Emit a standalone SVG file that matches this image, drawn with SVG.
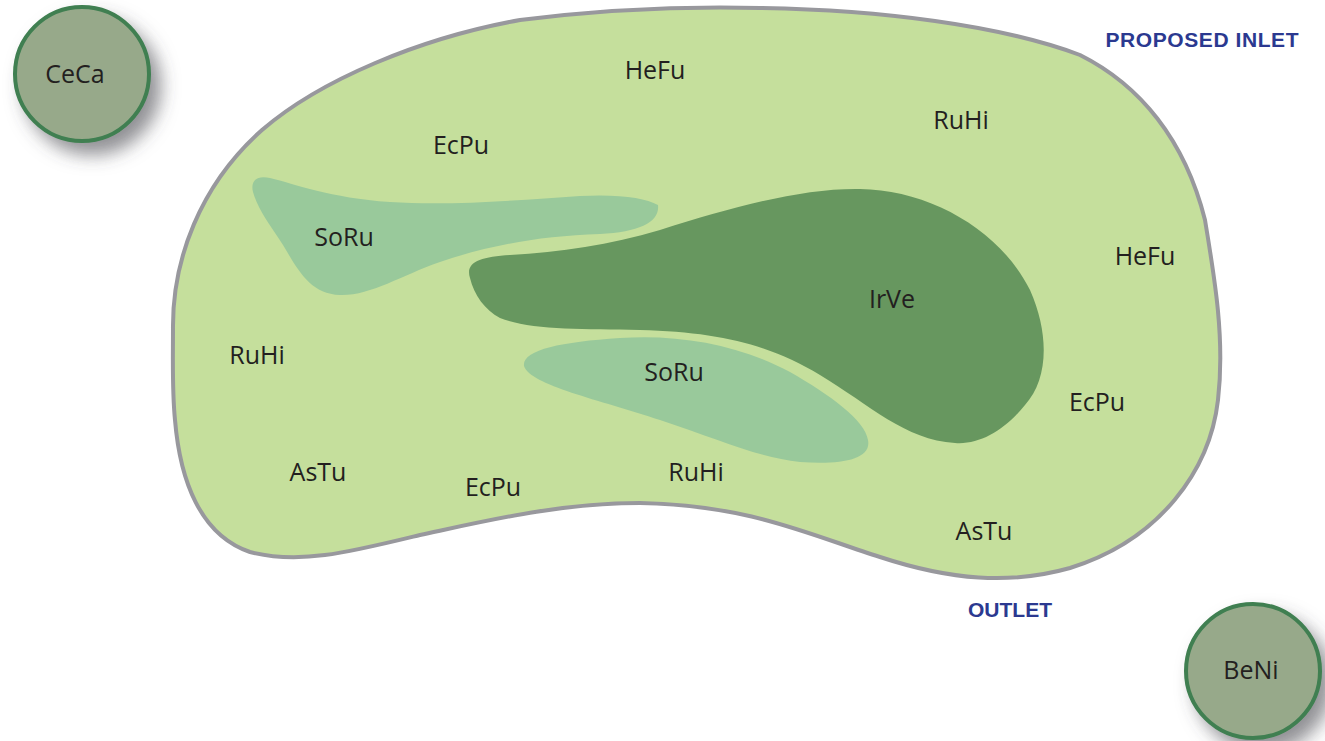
<svg xmlns="http://www.w3.org/2000/svg" width="1325" height="741" viewBox="0 0 1325 741">
<defs>
<filter id="shadow" x="-40%" y="-40%" width="200%" height="200%">
<feDropShadow dx="10" dy="12" stdDeviation="9" flood-color="#4a4a50" flood-opacity="0.6"/>
</filter>
</defs>
<style>
.lbl{font-family:"Open Sans","Noto Sans",sans-serif;font-size:25px;fill:#231f20;text-anchor:middle}
.note{font-family:"Liberation Sans",Arial,sans-serif;font-weight:700;font-size:21px;fill:#2b3990;text-anchor:middle}
.tree{fill:#97a98a;stroke:#3f7f51;stroke-width:4}
.soru{fill:#99c99b}
</style>
<rect width="1325" height="741" fill="#ffffff"/>
<g id="bed">
<path d="M 173,330 C 172,260 200,185 262,130 C 320,80 420,38 520,20 C 600,10 680,6 760,8 C 880,10 1000,25 1080,55 C 1140,85 1185,140 1205,220 C 1215,280 1225,340 1218,400 C 1210,470 1160,540 1070,568 C 1010,585 950,580 880,557 C 810,535 750,505 640,503 C 560,503 490,520 420,535 C 350,552 300,565 250,552 C 200,535 180,480 175,420 C 172,390 173,360 173,330 Z" fill="#c5df9c" stroke="#98989d" stroke-width="4"/>
</g>
<g id="soru-upper">
<path class="soru" d="M 253,192 C 250,180 258,175 270,178 C 295,184 330,198 390,202 C 450,206 520,200 580,196 C 620,194 645,198 658,205 C 660,222 640,232 600,234 C 540,236 490,245 440,262 C 400,276 370,296 340,295 C 310,294 298,270 283,245 C 270,225 258,210 253,192 Z"/>
<text class="lbl" x="344" y="246">SoRu</text>
</g>
<g id="irve">
<path d="M 470,278 C 465,262 480,257 510,255 C 560,252 610,245 660,230 C 730,208 800,188 860,189 C 930,190 1000,230 1030,290 C 1050,335 1048,380 1025,405 C 1005,430 980,445 955,443 C 905,440 870,405 820,375 C 770,345 720,332 640,330 C 580,329 530,330 500,318 C 485,310 474,295 470,278 Z" fill="#67975f"/>
<text class="lbl" x="892" y="308">IrVe</text>
</g>
<g id="soru-lower">
<path class="soru" d="M 524,366 C 522,350 560,342 620,338 C 680,334 740,345 790,372 C 830,395 865,420 868,440 C 872,460 840,465 800,462 C 760,458 720,440 660,420 C 600,400 530,385 524,366 Z"/>
<text class="lbl" x="674" y="381">SoRu</text>
</g>
<g id="labels">
<text class="lbl" x="655" y="79">HeFu</text>
<text class="lbl" x="461" y="154">EcPu</text>
<text class="lbl" x="961" y="129">RuHi</text>
<text class="lbl" x="1145" y="265">HeFu</text>
<text class="lbl" x="257" y="364">RuHi</text>
<text class="lbl" x="1097" y="411">EcPu</text>
<text class="lbl" x="318" y="481">AsTu</text>
<text class="lbl" x="493" y="496">EcPu</text>
<text class="lbl" x="696" y="481">RuHi</text>
<text class="lbl" x="984" y="540">AsTu</text>
</g>
<g id="inlet"><text class="note" x="1202" y="47" textLength="193">PROPOSED INLET</text></g>
<g id="outlet"><text class="note" x="1010" y="617" textLength="84">OUTLET</text></g>
<g id="ceca">
<circle class="tree" cx="82" cy="74" r="67" filter="url(#shadow)"/>
<text class="lbl" x="75" y="83">CeCa</text>
</g>
<g id="beni">
<circle class="tree" cx="1253" cy="671" r="67" filter="url(#shadow)"/>
<text class="lbl" x="1251" y="679">BeNi</text>
</g>
</svg>
